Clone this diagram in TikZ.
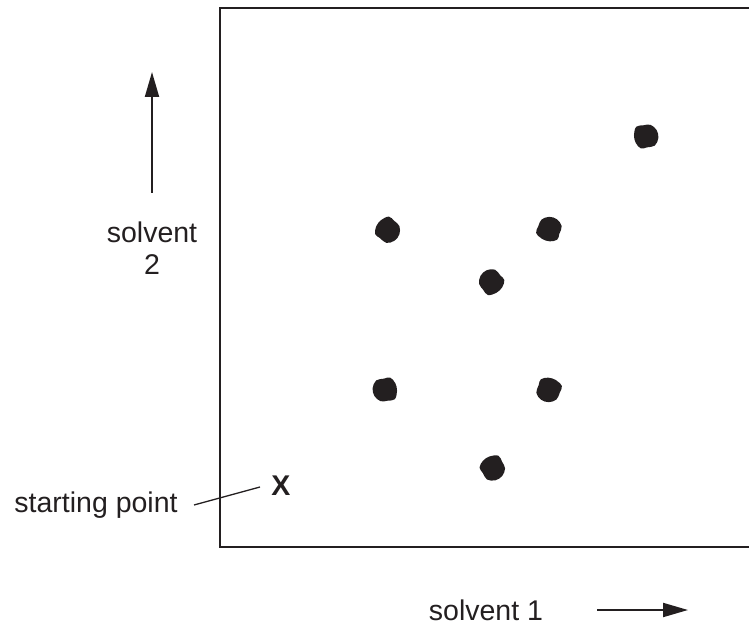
\documentclass[tikz,border=0pt]{standalone}
\usepackage{fontspec}
\setmainfont{Liberation Sans}
\usetikzlibrary{arrows.meta}
\definecolor{ink}{HTML}{231F20}
\tikzset{
  frame/.style={draw=ink, line width=2pt},
  arr/.style={draw=ink, line width=2pt, -{Triangle[length=25pt,width=14pt]}},
  lbl/.style={text=ink, font=\fontsize{28.5}{34}\selectfont, inner sep=0pt},
  leader/.style={draw=ink, line width=1.3pt},
  spot/.style={fill=ink}
}
\begin{document}
\begin{tikzpicture}[x=1pt,y=-1pt]
\useasboundingbox (0,0) rectangle (749,628);
\clip (0,0) rectangle (749,628);
% plate
\draw[frame] (220,8) rectangle (770,547);
% solvent 2 arrow
\coordinate (s2a) at (152,193);
\coordinate (s2b) at (152,72);
\draw[arr] (s2a) -- (s2b);
\node[lbl, align=center] (s2) at (152,248) {solvent\\[-2pt]2};
% solvent 1 arrow
\node[lbl] (s1) at (486,610) {solvent 1};
\coordinate (s1a) at (597,610);
\coordinate (s1b) at (688,610);
\draw[arr] (s1a) -- (s1b);
% starting point
\node[lbl] (sp) at (96,505) {starting point};
\node[lbl, font=\bfseries\fontsize{28.5}{34}\selectfont] (x) at (281,486) {X};
\coordinate (la) at (194,505);
\coordinate (lb) at (260,487);
\draw[leader] (la) -- (lb);
% spots (slightly irregular blobs)
\foreach \cx/\cy/\rot in {646/136/20, 388/230/-30, 549/229/80, 491/282/140, 385/390/200, 549/390/260, 493/468/310}{
  \fill[spot, rotate around={\rot:(\cx,\cy)}] plot[smooth cycle, tension=0.6] coordinates {
    (\cx+12,\cy-2) (\cx+11,\cy+6) (\cx+5,\cy+12) (\cx-3,\cy+11) (\cx-9,\cy+10)
    (\cx-12,\cy+3) (\cx-11,\cy-5) (\cx-6,\cy-12) (\cx+1,\cy-11) (\cx+8,\cy-9)};
}
\end{tikzpicture}
\end{document}
